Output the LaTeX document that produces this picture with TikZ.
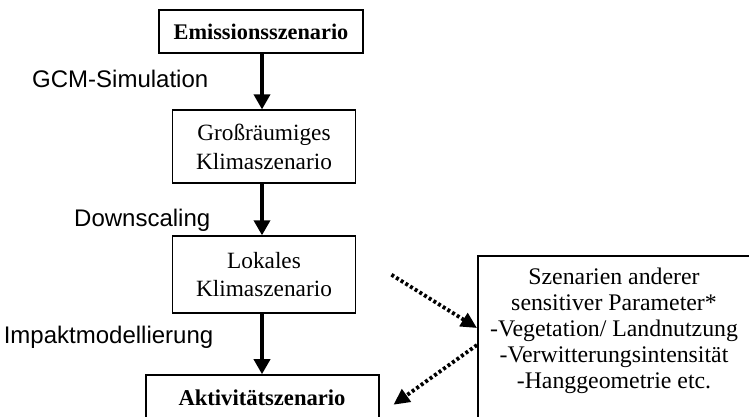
\documentclass[tikz,border=0pt]{standalone}
\usepackage{fontspec}
\setmainfont{Liberation Serif}
\setsansfont{Liberation Sans}
\usetikzlibrary{positioning,arrows.meta,calc}

\begin{document}
\begin{tikzpicture}[x=1pt, y=-1pt,
        box/.style={rectangle, draw=black, line width=1.9pt, minimum width=183pt, minimum height=73pt, inner sep=2pt, align=center, font=\fontsize{23.3}{28.5}\selectfont},
        topbox/.style={box, line width=2.8pt, minimum width=204pt, minimum height=43pt, font=\fontsize{22.3}{27}\selectfont\bfseries},
        endbox/.style={box, line width=2pt, minimum width=233pt, minimum height=45pt, font=\fontsize{22.6}{27}\selectfont\bfseries},
        parframe/.style={rectangle, draw=black, line width=1.6pt, minimum width=275pt, minimum height=175pt, inner sep=0pt, anchor=north west},
        partext/.style={align=center, inner sep=0pt, font=\fontsize{23.8}{26}\selectfont},
        arrow/.style={-{Triangle[length=15pt,width=16pt]}, line width=3.5pt},
        dotarrow/.style={-{Triangle[length=16pt,width=15pt]}, line width=3.8pt, dash pattern=on 3pt off 2.5pt},
        lbl/.style={font=\sffamily\fontsize{24}{28}\selectfont, inner sep=0pt},
      ]
      \useasboundingbox (0,0) rectangle (749,416);
      \clip (0,0) rectangle (749,416);
      % Hauptkette
      \node [topbox] (emis) at (261,31.5) {Emissionsszenario};
      \node [box, below=55pt of emis, xshift=3pt] (gross) {Großräumiges\\Klimaszenario};
      \node [box, below=51pt of gross, minimum height=77pt] (lokal) {Lokales\\Klimaszenario};
      \node [endbox, below=60pt of lokal, xshift=-2pt] (aktiv) {Aktivitätszenario};
      % weitere Parameter
      \node [parframe] (params) at (477,255) {};
      \node [partext] (paramtext) at (614,331) {Szenarien anderer\\sensitiver Parameter*\\-Vegetation/ Landnutzung\\-Verwitterungsintensität\\-Hanggeometrie etc.};
      \coordinate (axis) at (262,0);
      \draw [arrow] (axis |- emis.south) -- node [lbl, left=52pt, pos=0.45] (gcm) {GCM-Simulation} (axis |- gross.north);
      \draw [arrow] (axis |- gross.south) -- node [lbl, left=50pt, pos=0.7] (down) {Downscaling} (axis |- lokal.north);
      \draw [arrow] (axis |- lokal.south) -- node [lbl, left=47pt, pos=0.38] (impakt) {Impaktmodellierung} (axis |- aktiv.north);
      \draw [dotarrow] ([xshift=35pt]lokal.east) -- ([yshift=-73pt]params.north west);
      \draw [dotarrow] ([yshift=-90pt]params.north west) -- ([xshift=14pt,yshift=-7pt]aktiv.east);
    \end{tikzpicture}
\end{document}
